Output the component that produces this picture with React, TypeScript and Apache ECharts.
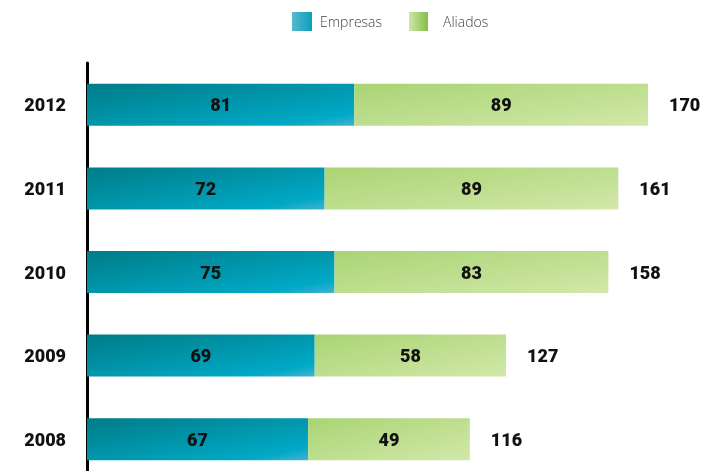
import React, { useEffect, useRef } from "react";
import * as echarts from "echarts";

const years = ["2008", "2009", "2010", "2011", "2012"];
const empresas = [67, 69, 75, 72, 81];
const aliados = [49, 58, 83, 89, 89];
const totals = [116, 127, 158, 161, 170];

const numFont = "Roboto, 'DejaVu Sans Condensed', sans-serif";

export default function App() {
  const ref = useRef<HTMLDivElement>(null);
  useEffect(() => {
    if (!ref.current) return;
    const chart = echarts.init(ref.current, undefined, { renderer: "svg" });
    const empGrad = new echarts.graphic.LinearGradient(0, 0, 1, 1, [
      { offset: 0, color: "#007c88" },
      { offset: 0.85, color: "#00a9c6" },
      { offset: 1, color: "#45b2cf" },
    ]);
    const aliGrad = new echarts.graphic.LinearGradient(0, 0, 1, 1, [
      { offset: 0, color: "#a9d474" },
      { offset: 1, color: "#d2e8a9" },
    ]);
    const empLegend = new echarts.graphic.LinearGradient(0, 0, 1, 0, [
      { offset: 0, color: "#5ab8cf" },
      { offset: 1, color: "#0a9fbc" },
    ]);
    const aliLegend = new echarts.graphic.LinearGradient(0, 0, 1, 0, [
      { offset: 0, color: "#cfe6a6" },
      { offset: 1, color: "#82bf48" },
    ]);
    const numStyle = {
      color: "#111",
      fontFamily: numFont,
      fontWeight: 900,
      fontSize: 18,
    };
    const inLabel = { show: true, position: "inside" as const, ...numStyle };
    const legendText = {
      color: "#444",
      fontFamily: "Open Sans",
      fontWeight: 300,
      fontSize: 14,
    };
    chart.setOption({
      animation: false,
      legend: [
        {
          top: 7,
          left: 287,
          itemWidth: 20,
          itemHeight: 19,
          icon: "rect",
          textStyle: { ...legendText, padding: [2, 0, 0, 3] },
          data: [{ name: "Empresas", itemStyle: { color: empLegend } }],
        },
        {
          top: 7,
          left: 404,
          itemWidth: 19,
          itemHeight: 19,
          icon: "rect",
          textStyle: { ...legendText, padding: [6, 0, 0, 10] },
          data: [{ name: "Aliados", itemStyle: { color: aliLegend } }],
        },
      ],
      grid: { left: 87, right: 30, top: 63, bottom: 9 },
      xAxis: {
        type: "value",
        min: 0,
        max: 180,
        show: false,
      },
      yAxis: {
        type: "category",
        data: years,
        axisLine: { show: true, lineStyle: { color: "#000", width: 3 } },
        axisTick: { show: false },
        axisLabel: { margin: 21, ...numStyle },
      },
      series: [
        {
          name: "Empresas",
          type: "bar",
          stack: "a",
          barWidth: 42,
          data: empresas,
          itemStyle: { color: empGrad },
          label: inLabel,
          z: 3,
        },
        {
          name: "Aliados",
          type: "bar",
          stack: "a",
          barWidth: 42,
          data: aliados,
          itemStyle: { color: aliGrad },
          label: inLabel,
          z: 3,
        },
        {
          name: "Total",
          type: "bar",
          barWidth: 42,
          barGap: "-100%",
          data: totals,
          itemStyle: { color: "rgba(0,0,0,0)" },
          label: { show: true, position: "right", distance: 21, ...numStyle },
          z: 1,
          silent: true,
        },
      ],
    });
    return () => chart.dispose();
  }, []);
  return (
    <div
      style={{ position: "fixed", left: 0, top: 0, width: 711, height: 471, overflow: "hidden" }}
    >
      <div ref={ref} style={{ width: 711, height: 490 }} />
    </div>
  );
}
